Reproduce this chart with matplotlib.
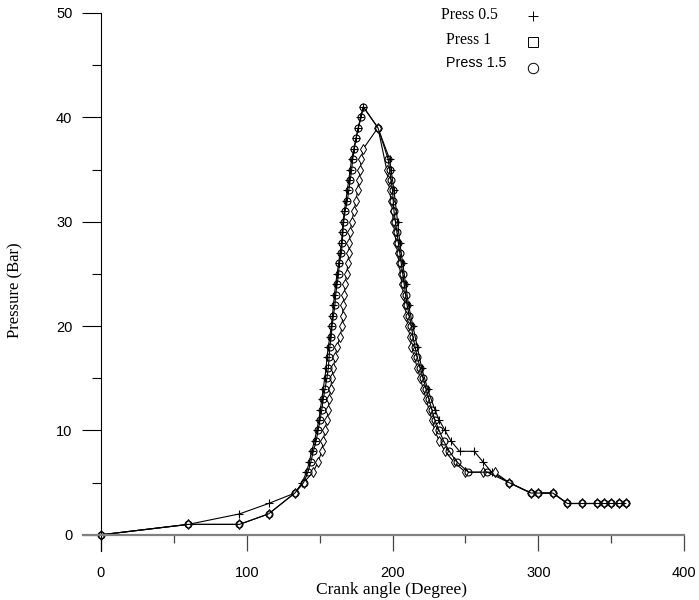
import matplotlib
matplotlib.use("Agg")
import matplotlib.pyplot as plt
from matplotlib.lines import Line2D
from matplotlib.ticker import MultipleLocator

# Press 0.5 (+)
angle_05 = [0, 60, 95, 115, 133, 138, 141, 143, 144.5, 146.5, 148, 149.5, 150.5, 151.5, 152.5,
            153.5, 154.5, 155, 156, 157, 158, 158.8, 159.5, 160.2, 161, 162, 163, 164, 165,
            165.5, 166, 167, 168, 169, 170, 171, 172, 173.5, 175, 176.5, 178, 180,
            190, 198, 199, 201, 203.5, 205, 207, 209, 211, 214, 217, 220, 224, 229, 232,
            236, 240, 246, 256, 262, 268, 280, 295, 300, 310, 320, 330, 340, 345, 350, 355, 360]
press_05 = [0, 1, 2, 3, 4, 5, 6, 7, 8, 9, 10, 11, 12, 13, 14,
            15, 16, 17, 18, 19, 20, 21, 22, 23, 24, 25, 26, 27, 28,
            29, 30, 31, 32, 33, 34, 35, 36, 37, 38, 39, 40, 41,
            39, 36, 35, 33, 30, 28, 26, 24, 22, 20, 18, 16, 14, 12, 11,
            10, 9, 8, 8, 7, 6, 5, 4, 4, 4, 3, 3, 3, 3, 3, 3, 3]

# Press 1 (diamonds)
angle_1 = [0, 60, 95, 115, 133, 139, 145.5, 149, 151.5, 152.5, 153.7, 155, 156, 156.5, 157.6,
           158.4, 159.5, 160.6, 162, 164, 165.5, 165.8, 166, 167, 167.5, 168.5, 169.5, 170,
           170.5, 171, 172, 173.5, 175, 176, 177, 178, 178.5, 180,
           190, 196, 197, 198, 199, 200, 200.5, 201.5, 202.5, 203.5, 204.5, 205.5, 206.5,
           207.5, 208.5, 209.5, 210.5, 212, 213, 215, 217, 219, 221, 223, 225, 227, 229,
           232, 236, 242, 250, 262, 270, 280, 295, 300, 310, 320, 330, 340, 345, 350, 355, 360]
press_1 = [0, 1, 1, 2, 4, 5, 6, 7, 8, 9, 10, 11, 12, 13, 14,
           15, 16, 17, 18, 19, 20, 21, 22, 23, 24, 25, 26, 27,
           28, 29, 30, 31, 32, 33, 34, 35, 36, 37,
           39, 35, 34, 33, 32, 31, 30, 29, 28, 27, 26, 25, 24,
           23, 22, 21, 20, 19, 18, 17, 16, 15, 14, 13, 12, 11, 10,
           9, 8, 7, 6, 6, 6, 5, 4, 4, 4, 3, 3, 3, 3, 3, 3, 3]

# Press 1.5 (circles)
angle_15 = [0, 60, 95, 115, 133, 139, 142, 144, 145.7, 147.6, 149, 150.3, 151.5, 152.5, 153.7,
            155, 156, 156.5, 157, 158, 158.5, 159.5, 160.5, 161, 162, 163, 163.5, 165, 165.5,
            166, 166.5, 167.5, 169, 170, 171, 172, 172.7, 173.8, 175, 176.6, 178.5, 180,
            190, 197, 198, 199, 200, 200.5, 201, 202, 203, 204, 205, 206, 207, 208, 209,
            210, 211.5, 213, 214, 215.5, 217, 219, 221, 223, 225, 227, 229, 232, 235, 239,
            244, 252, 265, 280, 295, 300, 310, 320, 330, 340, 345, 350, 355, 360]
press_15 = [0, 1, 1, 2, 4, 5, 6, 7, 8, 9, 10, 11, 12, 13, 14,
            15, 16, 17, 18, 19, 20, 21, 22, 23, 24, 25, 26, 27, 28,
            29, 30, 31, 32, 33, 34, 35, 36, 37, 38, 39, 40, 41,
            39, 36, 35, 34, 33, 32, 31, 30, 29, 28, 27, 26, 25, 24, 23,
            22, 21, 20, 19, 18, 17, 16, 15, 14, 13, 12, 11, 10, 9, 8,
            7, 6, 6, 5, 4, 4, 4, 3, 3, 3, 3, 3, 3, 3]

labels = ["Press 0.5", "Press 1", "Press 1.5"]

fig = plt.figure(figsize=(6.99, 6.0), dpi=100)
ax = fig.add_axes([0.1187, 0.0817, 0.860, 0.8967])

ax.plot(angle_05, press_05, color="black", lw=0.8, marker="+", ms=6, mew=0.8)
ax.plot(angle_1, press_1, color="black", lw=0.8, marker="d", ms=5.5, mfc="white", mew=0.7)
ax.plot(angle_15, press_15, color="black", lw=0.8, marker="o", ms=5, mfc="none", mew=0.8)

ax.set_xlim(-12.3, 400)
ax.set_ylim(-1.55, 50)

for s in ["top", "right"]:
    ax.spines[s].set_visible(False)
ax.spines["left"].set_position(("data", 0))
ax.spines["bottom"].set_position(("data", 0))
ax.spines["left"].set_linewidth(0.8)
ax.spines["bottom"].set_color("#808080")
ax.spines["bottom"].set_linewidth(1.6)

ax.xaxis.set_major_locator(MultipleLocator(100))
ax.xaxis.set_minor_locator(MultipleLocator(50))
ax.yaxis.set_major_locator(MultipleLocator(10))
ax.yaxis.set_minor_locator(MultipleLocator(5))

ax.tick_params(axis="x", which="major", direction="out", length=11.5, width=0.9,
               color="#444444", pad=11, labelsize=10.5)
ax.tick_params(axis="x", which="minor", direction="out", length=5.8, width=0.9, color="#444444")
ax.tick_params(axis="y", which="major", direction="out", length=13.5, width=0.8,
               pad=7, labelsize=10.5)
ax.tick_params(axis="y", which="minor", direction="out", length=6.5, width=0.8)
for lab in ax.get_xticklabels() + ax.get_yticklabels():
    lab.set_family("Liberation Sans")

fig.text(392 / 699, 1 - 590 / 600, "Crank angle (Degree)", family="Liberation Serif",
         fontsize=12.5, ha="center", va="center")
fig.text(15 / 699, 1 - 290 / 600, "Pressure (Bar)", family="Liberation Serif",
         fontsize=12, ha="center", va="center", rotation=90)

# key in the upper right: text on the left, marker on the right
key_text = [(441, 15, "Liberation Serif", 11.3),
            (446, 40, "Liberation Serif", 11.3),
            (446, 63, "Liberation Sans", 10.3)]
key_mark = [(533, 16, "+", 6.5), (533, 42, "s", 7), (533, 68, "o", 7.5)]
for (x, y, fam, fs), lab in zip(key_text, labels):
    fig.text(x / 699, 1 - y / 600, lab, family=fam, fontsize=fs, ha="left", va="center")
for x, y, m, ms in key_mark:
    fig.add_artist(Line2D([x / 699], [1 - y / 600], transform=fig.transFigure, ls="none",
                          marker=m, ms=ms, color="black", mfc="none", mew=0.7))

fig.savefig("out.png", dpi=100)
